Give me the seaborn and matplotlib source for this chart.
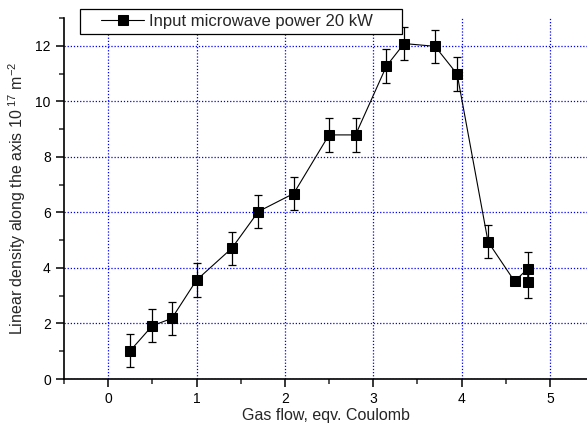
import matplotlib
matplotlib.use("Agg")
import matplotlib.pyplot as plt
import seaborn as sns
import pandas as pd
import numpy as np
from matplotlib.ticker import MultipleLocator
from matplotlib.patches import Rectangle

gas_flow = [0.25, 0.5, 0.72, 1.0, 1.4, 1.7, 2.1, 2.5, 2.8, 3.15, 3.35, 3.7, 3.95, 4.3, 4.6, 4.75, 4.75]
density = [1.02, 1.92, 2.18, 3.56, 4.71, 6.03, 6.68, 8.79, 8.79, 11.27, 12.08, 11.98, 10.98, 4.94, 3.52, 3.97, 3.5]
error = [0.6, 0.6, 0.6, 0.6, 0.6, 0.6, 0.6, 0.6, 0.6, 0.6, 0.6, 0.6, 0.6, 0.6, 0.15, 0.6, 0.6]
series_label = "Input microwave power 20 kW"
x_ticks = [0, 1, 2, 3, 4, 5]
y_ticks = [0, 2, 4, 6, 8, 10, 12]

sns.set_style("ticks")
plt.rcParams['font.family'] = ['Liberation Sans', 'DejaVu Sans']
plt.rcParams['mathtext.fontset'] = 'custom'
plt.rcParams['mathtext.rm'] = 'Liberation Sans'
plt.rcParams['mathtext.it'] = 'Liberation Sans'

df = pd.DataFrame({"x": gas_flow, "y": density, "err": error})

fig = plt.figure(figsize=(5.87, 4.23), dpi=100)
ax = fig.add_axes([64 / 587, 44 / 423, 1 - 64 / 587, (379 - 18) / 423])

ax.errorbar(df["x"], df["y"], yerr=df["err"], fmt="none", ecolor="black",
            elinewidth=0.9, capsize=3.2, capthick=0.9, zorder=3)
sns.lineplot(data=df, x="x", y="y", sort=False, estimator=None, ax=ax,
             color="black", linewidth=0.8, marker="s", markersize=7,
             markeredgecolor="black", markerfacecolor="black",
             label=series_label, zorder=4)

ax.set_xlim(-0.5, 5.42)
ax.set_ylim(0, 13)
ax.set_xticks(x_ticks)
ax.set_yticks(y_ticks)
ax.xaxis.set_minor_locator(MultipleLocator(0.5))
ax.yaxis.set_minor_locator(MultipleLocator(1))
ax.tick_params(which="major", direction="out", length=6, width=1.1, labelsize=10, colors="black")
ax.tick_params(which="minor", direction="out", length=3.5, width=1.1)
ax.grid(True, which="major", color="#0000ff", linestyle=(0, (1, 1.5)), linewidth=0.9)
for s in ["top", "right"]:
    ax.spines[s].set_visible(False)
for s in ["left", "bottom"]:
    ax.spines[s].set_color("black")
    ax.spines[s].set_linewidth(1.2)

ax.set_xlabel("Gas flow, eqv. Coulomb", fontsize=11.5, labelpad=1)
ax.set_ylabel("Linear density along the axis 10$^{\\ 17}$ m$^{-2}$", fontsize=11.5, labelpad=5)

# legend frame (wider padding than matplotlib's default)
frame = Rectangle((80 / 587, 1 - 34 / 423), (402 - 80) / 587, 25 / 423,
                  transform=fig.transFigure, facecolor="white", edgecolor="black",
                  linewidth=0.9, zorder=9)
fig.patches.append(frame)
leg = ax.legend(loc="center left", bbox_to_anchor=(101 / 587, 1 - 21.5 / 423),
                bbox_transform=fig.transFigure, borderaxespad=0, frameon=False,
                fontsize=12, handlelength=2.6, borderpad=0, handletextpad=0.3)
leg.set_zorder(10)
leg.remove()
fig.legends.append(leg)
leg.set_figure(fig) if hasattr(leg, "set_figure") else None

fig.savefig("out.png", dpi=100)
